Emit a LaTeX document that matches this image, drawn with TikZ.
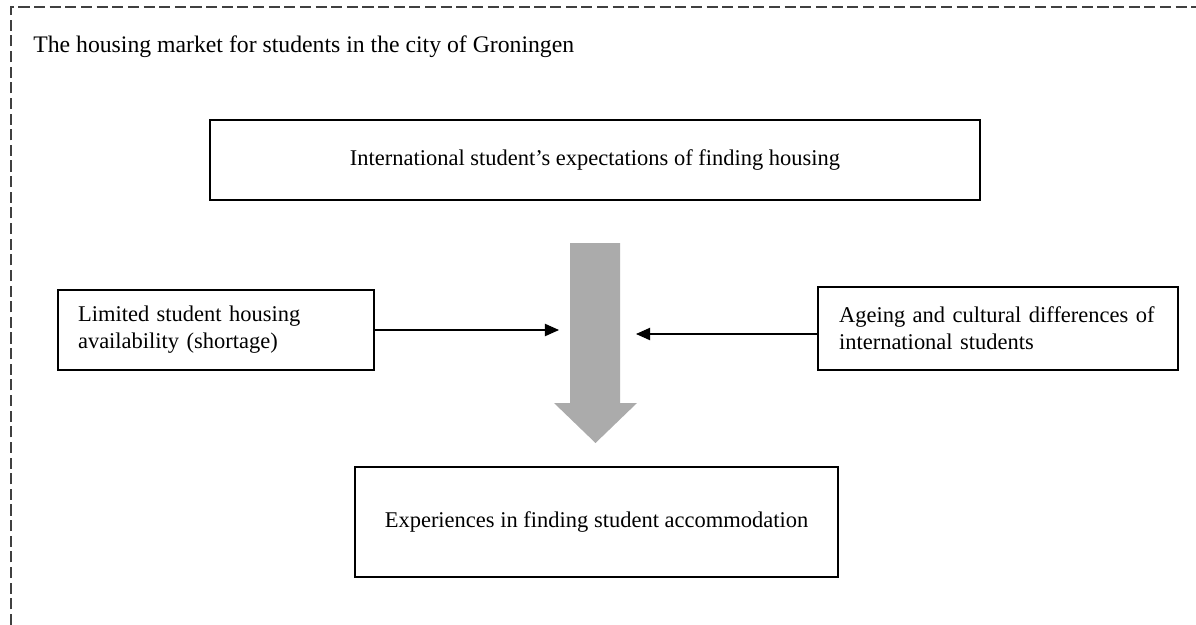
\documentclass[tikz,border=0pt]{standalone}
\usepackage{fontspec}
\setmainfont{Liberation Serif}
\usetikzlibrary{arrows.meta}

\definecolor{pfeilgrau}{HTML}{ABABAB}

\tikzset{
  rahmen/.style={draw=black!75, line width=0.75pt, dash pattern=on 6.3pt off 2.6pt},
  kasten/.style={draw, line width=1.1pt, inner sep=0pt, font=\fontsize{12.8}{15.5}\selectfont},
  seite/.style={kasten, align=left, minimum height=1.6cm},
  zufluss/.style={line width=0.6pt, -{Triangle[length=8pt, width=7pt]}},
}

\begin{document}
\begin{tikzpicture}[x=0.02cm, y=-0.02cm, font=\fontsize{13.5}{16}\selectfont]
  \useasboundingbox (0,0) rectangle (1196,625);

  % Штриховая рамка (верх и левый край)
  \draw[rahmen] (11,625) -- (11,7) -- (1196,7);

  % Заголовок
  \node[anchor=base west, inner sep=0pt] (title) at (33,53)
    {The housing market for students in the city of Groningen};

  % Блоки
  \node[kasten, minimum width=15.4cm, minimum height=1.6cm] (expect) at (595,160)
    {International student's expectations of finding housing};
  \node[seite, text width=5.52cm, inner xsep=0.4cm] (limit) at (216,330)
    {Limited student housing\\availability (shortage)};
  \node[seite, text width=6.36cm, inner xsep=0.42cm, minimum height=1.66cm] (ageing) at (998,328.5)
    {Ageing and cultural differences of\\international students};
  \node[kasten, minimum width=9.66cm, minimum height=2.2cm] (exper) at (596.5,522)
    {Experiences in finding student accommodation};

  % Большая серая стрелка
  \fill[pfeilgrau] (570,243) -- (620,243) -- (620,403) -- (637,403)
    -- (595.5,443) -- (554,403) -- (570,403) -- cycle;

  % Боковые стрелки
  \coordinate (lend) at (559,330);
  \coordinate (rend) at (636,334);
  \draw[zufluss] (limit.east) -- (lend);
  \draw[zufluss] (ageing.west |- rend) -- (rend);
\end{tikzpicture}
\end{document}
